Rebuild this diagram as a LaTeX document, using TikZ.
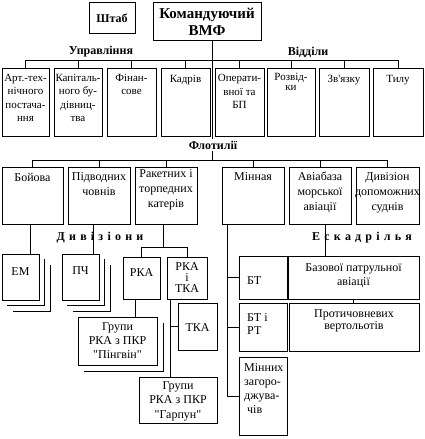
\documentclass[tikz,border=0pt]{standalone}
\usepackage{fontspec}
\setmainfont{Liberation Serif}
\newfontfamily\plainq{Liberation Serif}
\usetikzlibrary{calc}
\tikzset{
 bx/.style={draw, line width=0.8pt, inner sep=0pt, outer sep=0pt, rectangle},
 ln/.style={line width=0.8pt},
 t1/.style={inner sep=0pt, align=center, font=\fontsize{11}{13.5}\selectfont},
 t2/.style={inner sep=0pt, align=center, font=\fontsize{12}{15}\selectfont},
 tl/.style={inner sep=0pt, align=left, anchor=west, font=\fontsize{12}{14}\selectfont},
 lbl/.style={inner sep=0pt, font=\bfseries\fontsize{12}{14}\selectfont},
}
\newcommand\bx[5]{\node[bx, minimum width={(#4-#2)*1pt}, minimum height={(#5-#3)*1pt}] (#1) at ({(#2+#4)/2*1pt},{-(#3+#5)/2*1pt}) {};}
\newcommand\shd[2]{\draw[ln] ($(#1.north east)+(#2pt,-#2pt)$) -- ($(#1.south east)+(#2pt,-#2pt)$) -- ($(#1.south west)+(#2pt,-#2pt)$);}
\newcommand\lsp{\hspace{4.2pt}}
\newcommand\qq{{\plainq"}}
\newcommand\ap{{\plainq'}}
\begin{document}
\begin{tikzpicture}
\useasboundingbox (0,0) rectangle (424pt,-439pt);
% top
\bx{shtab}{89}{2}{135}{33}
\node[lbl] (shtabt) at (112pt,-18pt) {Штаб};
\bx{kom}{153}{2}{261}{40}
\node[inner sep=0pt, align=center, font=\bfseries\fontsize{15}{17}\selectfont] (komt) at (207pt,-21.5pt) {Командуючий\\ВМФ};
\node[lbl] (upr) at (101pt,-52pt) {Управління};
\node[lbl] (vid) at (308pt,-52pt) {Відділи};
% row 1
\bx{b1}{2}{68}{49}{136}
\bx{b2}{54}{68}{102}{136}
\bx{b3}{107}{68}{156}{136}
\bx{b4}{161}{68}{210}{136}
\bx{b5}{215}{68}{264}{136}
\bx{b6}{267}{68}{315}{136}
\bx{b7}{319}{68}{369}{136}
\bx{b8}{373}{68}{423}{136}
\node[t1] (b1t) at (b1 |- 0,-98pt) {Арт.-тех-\\нічного\\постача-\\ння};
\node[t1] (b2t) at (b2 |- 0,-98pt) {Капіталь-\\ного бу-\\дівниц-\\тва};
\node[t1] (b3t) at (b3 |- 0,-84.5pt) {Фінан-\\сове};
\node[t1] (b4t) at (b4 |- 0,-80pt) {Кадрів};
\node[t1] (b5t) at (b5 |- 0,-91.5pt) {Операти-\\вної та\\БП};
\node[t1, font=\fontsize{11}{10.5}\selectfont] (b6t) at (b6 |- 0,-82pt) {Розвід-\\ки};
\node[t1] (b7t) at (b7 |- 0,-80pt) {Зв\ap язку};
\node[t1] (b8t) at (b8 |- 0,-80pt) {Тилу};
\coordinate (barU) at (0,-60pt);
\draw[ln] (b1.north) -- (b1.north |- barU) -- (b8.north |- barU) -- (b8.north);
\foreach \n in {b2,b3,b4,b5,b6,b7} \draw[ln] (\n.north) -- (\n.north |- barU);
% row 2
\bx{f1}{2}{167}{63}{224}
\bx{f2}{68}{167}{130}{224}
\bx{f3}{135}{167}{197}{224}
\bx{f4}{222}{167}{284}{224}
\bx{f5}{289}{167}{351}{224}
\bx{f6}{356}{167}{419}{224}
\node[t2] (f1t) at (f1 |- 0,-177pt) {Бойова};
\node[t2] (f2t) at (f2 |- 0,-184.5pt) {Підводних\\човнів};
\node[t2] (f3t) at (f3 |- 0,-190pt) {Ракетних і\\торпедних\\катерів};
\node[t2] (f4t) at (f4 |- 0,-177pt) {Мінная};
\node[t2] (f5t) at (f5 |- 0,-192pt) {Авіабаза\\морської\\авіації};
\node[t2] (f6t) at (f6 |- 0,-193pt) {Дивізіон\\допоможних\\суднів};
\coordinate (barF) at (0,-160pt);
\draw[ln] ([xshift=5pt]kom.south) -- ([xshift=5pt]kom.south |- barF);
\draw[ln] (f1.north) -- (f1.north |- barF) -- (f6.north |- barF) -- (f6.north);
\foreach \n in {f2,f3,f4,f5} \draw[ln] (\n.north) -- (\n.north |- barF);
\node[lbl, fill=white, inner sep=1.5pt] (flot) at (213pt,-145pt) {Флотилії};
% row 3
\bx{em}{2}{254}{39}{300}
\bx{pch}{62}{254}{99}{300}
\node[t2] (emt) at (em |- 0,-272pt) {ЕМ};
\node[t2] (pcht) at (pch |- 0,-271pt) {ПЧ};
\shd{em}{5}\shd{em}{11}
\shd{pch}{5}\shd{pch}{11}
\draw[ln] ([xshift=10pt]em.north) -- ([xshift=10pt]em.north |- f1.south);
\draw[ln] ([xshift=12.5pt]pch.north) -- ([xshift=12.5pt]pch.north |- f2.south);
\bx{rka}{123}{257}{160}{299}
\bx{rkt}{167}{257}{207}{299}
\node[t2] (rkat) at (rka |- 0,-273pt) {РКА};
\node[t2, font=\fontsize{12}{11}\selectfont] (rktt) at (rkt |- 0,-278pt) {РКА\\і\\ТКА};
\coordinate (rb) at (163pt,-247pt);
\draw[ln] (rb |- f3.south) -- (rb);
\draw[ln] (rka.north) -- (rka.north |- rb) -- (rkt.north |- rb) -- (rkt.north);
\bx{ping}{78}{317}{157}{365}
\node[t2, font=\fontsize{12}{14}\selectfont] (pingt) at (ping |- 0,-341pt) {Групи\\РКА з ПКР\\\qq Пінгвін\qq};
\shd{ping}{6}
\draw[ln] ([xshift=-6pt]rka.south) -- ([xshift=-6pt]rka.south |- ping.north);
\bx{tka}{178}{303}{217}{350}
\node[t2] (tkat) at (tka |- 0,-328pt) {ТКА};
\bx{garp}{139}{377}{217}{423}
\node[t2, font=\fontsize{12}{14.5}\selectfont] (garpt) at (garp |- 0,-401pt) {Групи\\РКА з ПКР\\\qq Гарпун\qq};
\coordinate (rk) at ([xshift=-17pt]rkt.south);
\draw[ln] (rk) -- (rk |- garp.north);
\draw[ln] (tka.west) -- (tka.west -| rk);
% minna
\bx{bt}{239}{256}{287}{299}
\bx{btrt}{239}{303}{287}{351}
\bx{minn}{239}{357}{287}{435}
\node[tl] (btt) at (247pt,-281pt) {БТ};
\node[tl, font=\fontsize{12}{13}\selectfont] (btrtt) at (247pt,-324.5pt) {БТ і\\РТ};
\node[tl, font=\fontsize{12}{13.7}\selectfont] (minnt) at (244pt,-388.5pt) {Мінних\\загоро-\\джува-\\\hspace*{3pt}чів};
\coordinate (ml) at ([xshift=5pt]f4.south west);
\draw[ln] (ml) -- (ml |- minn.west) -- (minn.west);
\draw[ln] (bt.west) -- (bt.west -| ml);
\draw[ln] (btrt.west) -- (btrt.west -| ml);
% aviation
\bx{baz}{288}{256}{419}{299}
\bx{prot}{289}{303}{419}{351}
\node[t2, font=\fontsize{12}{14}\selectfont] (bazt) at (baz |- 0,-276pt) {Базової патрульної\\авіації};
\node[t2, font=\fontsize{12}{12.5}\selectfont] (prott) at (prot |- 0,-321pt) {Протичовневих\\вертольотів};
\draw[ln] ([xshift=5pt]f5.south) -- ([xshift=5pt]f5.south |- baz.north);
\draw[ln] (baz.south) -- (baz.south |- prot.north);
% labels
\node[lbl] (div) at (100pt,-238pt) {Д\lsp и\lsp в\lsp і\lsp з\lsp і\lsp о\lsp н\lsp и};
\node[lbl] (esk) at (362pt,-238pt) {Е\lsp с\lsp к\lsp а\lsp д\lsp р\lsp і\lsp л\lsp ь\lsp я};
\end{tikzpicture}
\end{document}
